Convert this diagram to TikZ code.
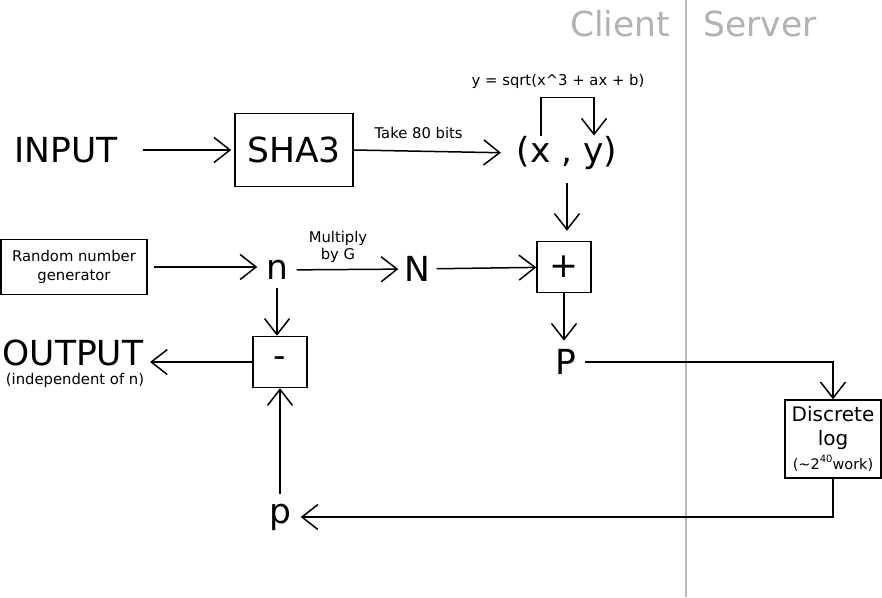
\documentclass[tikz,border=0pt]{standalone}
\usepackage{fontspec}
\setmainfont{DejaVu Sans}
\usetikzlibrary{arrows.meta}

\begin{document}
\begin{tikzpicture}[x=1pt,y=-1pt,line width=1.5pt,
  >={Straight Barb[length=16pt,width=25pt]},
  big/.style={font=\fontsize{34.5}{40}\selectfont,inner sep=0pt},
  small/.style={font=\fontsize{14.8}{19}\selectfont,align=center},
  blk/.style={draw,line width=1.5pt,inner sep=0pt,align=center}]
  \useasboundingbox (0,0) rectangle (882,597);
  \draw[black!27] (686,0) -- (686,597);
  \node[big,text=black!30] (client) at (620,24) {Client};
  \node[big,text=black!30] (server) at (760,24) {Server};

  \node[big] (input) at (66,150) {INPUT};
  \node[big,blk,minimum width=118pt,minimum height=73pt] (sha) at (294,150) {SHA3};
  \node[big] (xy) at (567,153) {(x , y)};
  \node[small] (curve) at (558,81) {y = sqrt(x\textasciicircum3 + ax + b)};
  \node[big,blk,minimum width=54pt,minimum height=51pt] (plus) at (564,267) {+};
  \node[small,blk,minimum width=146pt,minimum height=55pt] (rng) at (74,267) {Random number\\generator};
  \node[big] (n) at (277,270) {n};
  \node[big] (N) at (417,269) {N};
  \node[big] (P) at (566,362) {P};
  \node[blk,minimum width=96pt,minimum height=78pt,font=\fontsize{20}{24}\selectfont] (dlog) at (833,439)
    {Discrete\\log\\{\fontsize{14.5}{16}\selectfont(\textasciitilde2\raisebox{7pt}{\fontsize{10}{10}\selectfont 40}work)}};
  \node[big,blk,minimum width=54pt,minimum height=51pt] (minus) at (280,362) {-};
  \node[big] (out) at (73,353) {OUTPUT};
  \node[small] (indep) at (75,380) {(independent of n)};
  \node[big] (p) at (280,517) {p};

  \draw[->,shorten <=25pt,shorten >=3pt] (input.east) -- (sha.west);
  \draw[->,shorten >=15pt] (sha.east) -- node[small,above=8pt,pos=0.4] {Take 80 bits} (xy.west);
  \draw[->] ([xshift=-26pt]xy.north) -- ++(0,-38) -| ([xshift=27pt]xy.north);
  \draw[->,shorten <=13pt,shorten >=10pt] (xy.south) -- (xy.south |- plus.north);
  \draw[->,shorten <=6pt,shorten >=8pt] (rng.east) -- (rng.east -| n.west);
  \draw[->,shorten <=8pt,shorten >=5pt] (n) -- node[small,above=3pt,pos=0.43,font=\fontsize{14.8}{17}\selectfont] {Multiply\\by G} (N);
  \draw[->,shorten <=6pt] (N) -- (plus);
  \draw[->,shorten >=8pt] (plus.south) -- (plus.south |- P.north);
  \draw[->,shorten <=8pt] (P.east) -| (dlog.north);
  \draw[->,shorten >=9pt] (dlog.south) |- (p.east);
  \draw[->,shorten <=9pt] (p.north) -- (p.north |- minus.south);
  \draw[->,shorten <=8pt] (n.south) -- (n.south |- minus.north);
  \draw[->,shorten >=6pt] (minus.west) -- (minus.west -| out.east);
\end{tikzpicture}
\end{document}
